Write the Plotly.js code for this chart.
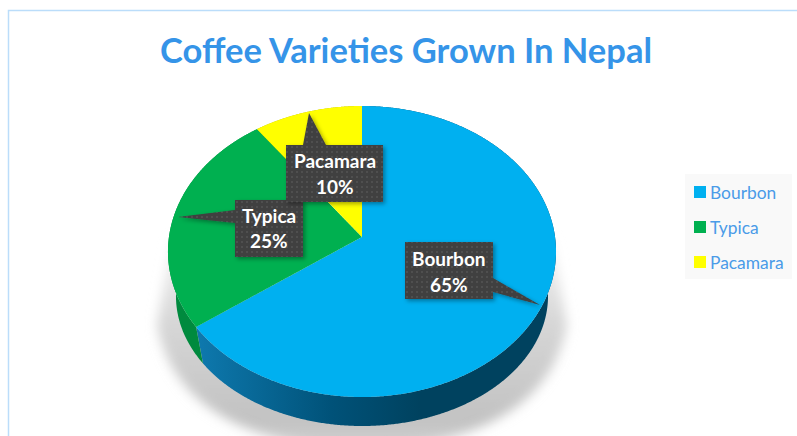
<!DOCTYPE html>
<html><head><meta charset="utf-8">
<script src="https://cdn.plot.ly/plotly-3.0.1.min.js"></script>
<style>html,body{margin:0;padding:0;background:#fff;overflow:hidden}</style>
</head><body><div id="chart" style="width:797px;height:436px"></div>
<script>
const categories = ['Bourbon', 'Typica', 'Pacamara'];
const shares = [65, 25, 10];
const faceColors = ['#00B0F0', '#00B050', '#FFFF00'];
const wallColors = ['#004A6E', '#008A3E', '#B5B500'];
const titleText = 'Coffee Varieties Grown In Nepal';
const W = 797, H = 436;
const px = x => x / W, py = y => 1 - y / H;

// callout layout, pixels: box, then pointer base and tip
const callouts = [
  {box:[405,242,493,299], path:'M405,242H493V278L540,305L493,292V299H405Z', lines:[258,284]},
  {box:[235,200,303,257], path:'M235,200H303V257H235V223L178,217L235,210Z', lines:[215,241]},
  {box:[286,145,383,202], path:'M286,145H303L309,113L326,145H383V202H286Z', lines:[161,187]}
];

const annotations = [];
callouts.forEach((c, i) => {
  const cx = (c.box[0] + c.box[2]) / 2;
  [categories[i], shares[i] + '%'].forEach((t, j) => annotations.push({
    xref:'paper', yref:'paper', x:px(cx), y:py(c.lines[j]), xanchor:'center', yanchor:'middle',
    text:t, showarrow:false, font:{family:'Lato', size:19, color:'#fff', weight:700}
  }));
});

const shapes = [
  {type:'path', layer:'below', xref:'x', yref:'y',
   path:'M172,240L157,325Q178,440 362,452Q546,440 567,325L552,240Z',
   fillcolor:'#9a9a9a', line:{width:0}},
  {type:'rect', layer:'below', xref:'x', yref:'y', x0:685, x1:792, y0:174, y1:279,
   fillcolor:'#F9F9F9', line:{width:0}},
  {type:'path', layer:'below', xref:'x', yref:'y', path:'M8.5,436V10.5H797', line:{color:'#BBDDFA', width:1.5}},
].concat(callouts.map(c => ({type:'path', layer:'above', xref:'x', yref:'y', path:c.path,
   fillcolor:'#404040', line:{width:0}})));

const pieBase = {type:'pie', labels:categories, values:shares, sort:false, direction:'clockwise',
  textinfo:'none', hoverinfo:'label+percent', domain:{x:[0,1], y:[0,1]}};

const traces = [
  Object.assign({}, pieBase, {marker:{colors:wallColors, line:{width:0}}, showlegend:false, name:'wall'}),
  Object.assign({}, pieBase, {marker:{colors:faceColors, line:{width:0}}, name:'face'})
];

const layout = {
  width:W, height:H, margin:{l:0,r:0,t:0,b:0,autoexpand:false},
  paper_bgcolor:'#fff', plot_bgcolor:'rgba(0,0,0,0)',
  title:{text:'<b>'+titleText+'</b>', x:px(406), xanchor:'center', y:py(51), yanchor:'middle',
         font:{family:'Lato', size:34.5, color:'#3594E8'}},
  xaxis:{range:[0,W], visible:false, fixedrange:true},
  yaxis:{range:[H,0], visible:false, fixedrange:true},
  legend:{x:px(685), xanchor:'left', y:py(174), yanchor:'top', bgcolor:'rgba(0,0,0,0)', borderwidth:0,
          font:{family:'Lato', size:17.4, color:'#4A9BE8'}, itemclick:false, itemdoubleclick:false},
  shapes, annotations, showlegend:true
};

const gd = document.getElementById('chart');
const NS = 'http://www.w3.org/2000/svg';
const bottomEll = {cx:362, cy:296, rx:186, ry:130, a:-0.0997};
const topEll = {cx:362, cy:251.5, rx:194, ry:145.5, a:-0.0997};

// Seen in perspective: maps a point of the circular pie to an ellipse whose hub sits above its middle.
function project(u, v, ell) {
  const s = Math.sqrt(1 - ell.a * ell.a), d = 1 + ell.a * v;
  return (ell.cx + ell.rx * s * u / d).toFixed(2) + ',' + (ell.cy + ell.ry * (v + ell.a) / d).toFixed(2);
}
function samples(path, cd) {
  const L = path.getTotalLength(), n = 900, out = [];
  for (let i = 0; i <= n; i++) {
    const p = path.getPointAtLength(L * i / n);
    out.push([(p.x - cd.cx) / cd.r, (p.y - cd.cy) / cd.r]);
  }
  return out;
}

Plotly.newPlot(gd, traces, layout, {displayModeBar:false}).then(() => {
  const svg = gd.querySelector('svg.main-svg');
  const defs = document.createElementNS(NS, 'defs');
  defs.innerHTML =
    '<linearGradient id="wallBlue" gradientUnits="userSpaceOnUse" x1="197" y1="0" x2="420" y2="0">' +
      '<stop offset="0" stop-color="#0E79AE"/><stop offset="0.6" stop-color="#005279"/><stop offset="1" stop-color="#00425F"/></linearGradient>' +
    '<linearGradient id="shade" x1="0" y1="0" x2="0" y2="1">' +
      '<stop offset="0" stop-color="#f4f4f4"/><stop offset="0.4" stop-color="#d6d6d6"/><stop offset="0.85" stop-color="#c2c2c2"/><stop offset="1" stop-color="#d4d4d4"/></linearGradient>' +
    '<pattern id="dots" width="5" height="5" patternUnits="userSpaceOnUse"><rect width="5" height="5" fill="#3F3F3F"/><circle cx="2" cy="2" r="0.9" fill="#565656"/></pattern>' +
    '<filter id="blur" x="-20%" y="-20%" width="140%" height="140%"><feGaussianBlur stdDeviation="6"/></filter>' +
    '<filter id="cs" x="-20%" y="-20%" width="140%" height="140%"><feDropShadow dx="2" dy="2" stdDeviation="2" flood-color="#000" flood-opacity=".35"/></filter>';
  svg.insertBefore(defs, svg.firstChild);

  gd.querySelectorAll('.pielayer .trace').forEach((tr, i) => {
    const cd = gd.calcdata[i][0];
    tr.querySelectorAll('path.surface').forEach((p, k) => {
      const pts = samples(p, cd);
      if (i === 1) {
        p.setAttribute('d', 'M' + pts.map(q => project(q[0], q[1], topEll)).join('L') + 'Z');
      } else {
        // the wall is the ribbon between the rim of the face and the rim of the base
        const rim = pts.filter(q => Math.hypot(q[0], q[1]) > 0.999);
        const lower = rim.map(q => project(q[0], q[1], bottomEll));
        const upper = rim.slice().reverse().map(q => project(q[0], q[1], topEll));
        p.setAttribute('d', 'M' + lower.concat(upper).join('L') + 'Z');
        if (k === 0) p.style.fill = 'url(#wallBlue)';
      }
    });
  });

  gd.querySelectorAll('.shapelayer path').forEach(p => {
    const f = p.style.fill;
    if (f && f.indexOf('154') >= 0) { p.style.fill = 'url(#shade)'; p.setAttribute('filter','url(#blur)'); p.style.opacity = 1; }
    if (f && f.indexOf('64, 64, 64') >= 0) { p.style.fill = 'url(#dots)'; p.setAttribute('filter','url(#cs)'); }
  });

  // legend rows
  const rowY = [192, 227, 262];
  const sb = gd.querySelector('.legend .scrollbox');
  if (sb) sb.removeAttribute('clip-path');
  gd.querySelectorAll('.legend .traces').forEach((t, i) => {
    t.setAttribute('transform', 'translate(-5,' + (rowY[i] - 174) + ')');
    const tx = t.querySelector('text.legendtext');
    if (tx) tx.setAttribute('x', 30);
  });
});
</script></body></html>
